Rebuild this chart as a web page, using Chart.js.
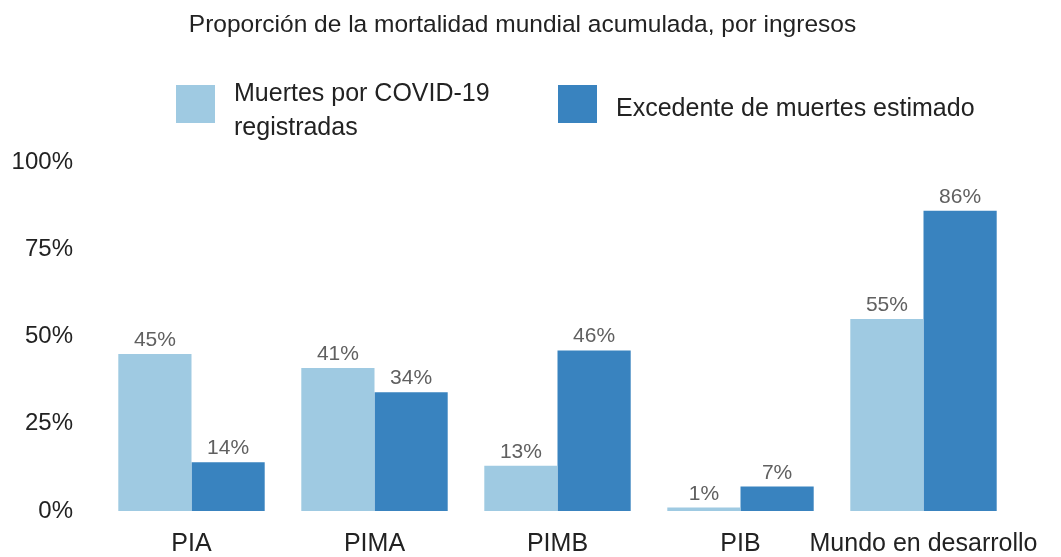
<!DOCTYPE html>
<html>
<head>
<meta charset="utf-8">
<script src="https://cdn.jsdelivr.net/npm/chart.js@4"></script>
<style>
    body { margin: 0; background: #fff; font-family: "Liberation Sans", Arial, sans-serif; }
    #wrap { position: relative; width: 1061px; height: 557px; }
    #title { position: absolute; left: 0; top: 10px; width: 1045px; text-align: center; font-size: 24.5px; line-height: 28px; color: #222; }
    .swatch { position: absolute; width: 39px; height: 38px; }
    .legend-text { position: absolute; font-size: 25px; line-height: 34px; color: #222; }
    canvas { position: absolute; left: 0; top: 0; }
</style>
</head>
<body>
<div id="wrap">
    <canvas id="chart" width="1061" height="557"></canvas>
    <div id="title">Proporción de la mortalidad mundial acumulada, por ingresos</div>
    <div class="swatch" id="sw1" style="left:176px; top:85px;"></div>
    <div class="legend-text" id="lt1" style="left:234px; top:75px;"></div>
    <div class="swatch" id="sw2" style="left:558px; top:85px;"></div>
    <div class="legend-text" id="lt2" style="left:616px; top:90px;"></div>
</div>
<script>
const categories = ['PIA', 'PIMA', 'PIMB', 'PIB', 'Mundo en desarrollo'];
const seriesNames = ['Muertes por COVID-19\nregistradas', 'Excedente de muertes estimado'];
const registered = [45, 41, 13, 1, 55];
const excess = [14, 34, 46, 7, 86];
const yTicks = [0, 25, 50, 75, 100];
const colors = ['#9fcae2', '#3983bf'];

// legend lives in the page, next to the canvas
document.getElementById('sw1').style.background = colors[0];
document.getElementById('sw2').style.background = colors[1];
document.getElementById('lt1').innerHTML = seriesNames[0].replace('\n', '<br>');
document.getElementById('lt2').textContent = seriesNames[1];

const barLabels = {
    id: 'barLabels',
    afterDatasetsDraw(chart) {
        const ctx = chart.ctx;
        ctx.save();
        ctx.font = '21px "Liberation Sans", Arial, sans-serif';
        ctx.fillStyle = '#606060';
        ctx.textAlign = 'center';
        ctx.textBaseline = 'alphabetic';
        chart.data.datasets.forEach((ds, i) => {
            chart.getDatasetMeta(i).data.forEach((bar, j) => {
                ctx.fillText(ds.data[j] + '%', bar.x, bar.y - 8);
            });
        });
        ctx.restore();
    }
};

new Chart(document.getElementById('chart').getContext('2d'), {
    type: 'bar',
    data: {
        labels: categories,
        datasets: [
            { label: seriesNames[0], data: registered, backgroundColor: colors[0], categoryPercentage: 0.8, barPercentage: 1.0 },
            { label: seriesNames[1], data: excess, backgroundColor: colors[1], categoryPercentage: 0.8, barPercentage: 1.0 },
        ],
    },
    options: {
        responsive: false,
        animation: false,
        layout: { padding: { top: 162, right: 46, left: 0, bottom: 0 } },
        plugins: {
            legend: { display: false },
            title: { display: false },
            tooltip: { enabled: false },
        },
        scales: {
            x: {
                grid: { display: false, drawTicks: false },
                border: { display: false },
                ticks: {
                    color: '#222',
                    font: { family: '"Liberation Sans", Arial, sans-serif', size: 25 },
                    padding: 18,
                    maxRotation: 0,
                    autoSkip: false,
                },
                afterFit: scale => { scale.height = 46; },
            },
            y: {
                min: 0,
                max: 100,
                grid: { display: false, drawTicks: false },
                border: { display: false },
                afterBuildTicks: scale => { scale.ticks = yTicks.map(v => ({ value: v })); },
                ticks: {
                    color: '#222',
                    font: { family: '"Liberation Sans", Arial, sans-serif', size: 24 },
                    padding: 27,
                    callback: value => value + '%',
                },
                afterFit: scale => { scale.width = 100; },
            },
        },
    },
    plugins: [barLabels],
});
</script>
</body>
</html>
